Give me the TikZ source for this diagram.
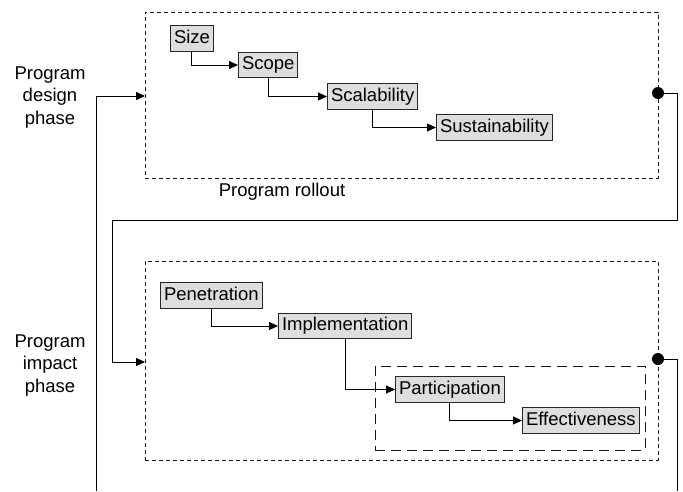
\documentclass[tikz,border=0pt]{standalone}
\usepackage{fontspec}
\setmainfont{Liberation Sans}
\usetikzlibrary{arrows.meta}
\begin{document}
\begin{tikzpicture}[x=1pt,y=-1pt,
  font=\fontsize{18.5}{22.5}\selectfont,
  item/.style={draw=black!85, fill=black!13, line width=1pt, inner xsep=3.5pt, inner ysep=0pt,
    minimum height=25.5pt, anchor=west, text height=13.3pt, text depth=3.8pt},
  flow/.style={line width=1pt, -{Triangle[length=9pt,width=8pt]}},
  conn/.style={line width=1pt},
  phasebox/.style={draw=black!90, dash pattern=on 4pt off 3pt, line width=1pt, inner sep=0pt,
    outer sep=0pt, anchor=north west},
  subbox/.style={draw=black!90, dash pattern=on 10pt off 6pt, line width=1pt, inner sep=0pt,
    outer sep=0pt, anchor=north west},
  lab/.style={align=center, inner sep=0pt},
  dot/.style={circle, fill=black, inner sep=0pt, minimum size=12pt}]
\useasboundingbox (0,0) rectangle (683,491);

% dashed frames
\node[phasebox, minimum width=513pt, minimum height=166pt] (rollout) at (145,12) {};
\node[phasebox, minimum width=513pt, minimum height=199pt] (impact) at (145,261) {};
\node[subbox, minimum width=270pt, minimum height=84pt] (sub) at (375,366) {};

% labels
\node[lab] (ldesign) at (50,97.5) {Program\\design\\phase};
\node[lab] (limpact) at (50,365.5) {Program\\impact\\phase};
\node[inner sep=0pt, anchor=base] (lroll) at (282,196) {Program rollout};

% items
\node[item] (size) at (170,38.5) {Size};
\node[item] (scope) at (238,65) {Scope};
\node[item] (scal) at (327,96.5) {Scalability};
\node[item] (sust) at (436,127.5) {Sustainability};
\node[item] (pen) at (160,295.5) {Penetration};
\node[item] (impl) at (278,326) {Implementation};
\node[item] (part) at (395,389.5) {Participation};
\node[item] (eff) at (522,420.5) {Effectiveness};

\draw[flow] (size.south) |- (scope.west);
\draw[flow] (scope.south) |- (scal.west);
\draw[flow] (scal.south) |- (sust.west);
\draw[flow] (pen.south) |- (impl.west);
\draw[flow] (impl.south) |- (part.west);
\draw[flow] (part.south) |- (eff.west);

% feedback connectors
\coordinate (d1) at (658,93);
\coordinate (d2) at (658,359);
\coordinate (in1) at (145,96);
\coordinate (in2) at (145,362);
\coordinate (bl) at (96,491);
\coordinate (br) at (677,491);

\draw[flow] (bl) |- (in1);
\draw[flow] (d1) -- (677,93) -- (677,220) -- (112,220) |- (in2);
\draw[conn] (d2) -| (br);
\node[dot] (dot1) at (d1) {};
\node[dot] (dot2) at (d2) {};
\end{tikzpicture}
\end{document}
